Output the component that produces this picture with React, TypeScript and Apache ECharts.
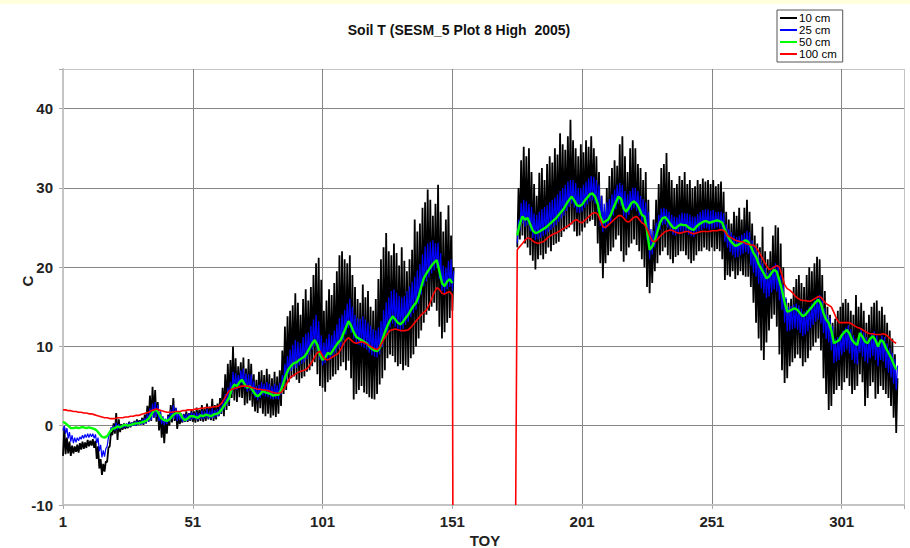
import React, { useEffect, useRef } from "react";
import * as echarts from "echarts";

// ---------- data (TOY = day of year) ----------
const xTickLabels = ["1", "51", "101", "151", "201", "251", "301"];
const yTickLabels = ["-10", "0", "10", "20", "30", "40"];
const seriesNames = ["10 cm", "25 cm", "50 cm", "100 cm"];

const startA = 1; // days 1..151
const startB = 176; // days 176..322

// 10 cm daily high / low
const blackHiA = [
  -0.2, -1.5, -2.0, -2.5, -2.6, -2.4, -2.2, -2.0, -2.1, -1.8,
  -1.9, -1.7, -1.9, -2.6, -4.2, -4.8, -4.5, -2.8, -0.8, 0.3,
  1.6, 0.8, 0.2, 0.3, 0.2, 0.5, 0.4, 0.6, 0.8, 0.7,
  1.0, 1.4, 2.5, 3.8, 4.9, 4.5, 3.0, 1.8, 0.9, 0.6,
  1.4, 2.6, 3.5, 2.2, 1.2, 1.0, 1.5, 1.8, 1.6, 2.0,
  1.8, 2.3, 2.0, 2.6, 2.2, 2.8, 2.4, 3.4, 2.6, 2.8,
  3.5, 4.8, 6.5, 7.8, 8.3, 10.0, 8.5, 7.5, 8.0, 8.6,
  7.2, 8.4, 7.8, 6.5, 5.8, 6.8, 7.0, 6.4, 7.2, 6.5,
  6.0, 6.8, 6.2, 7.0, 9.5, 12.5, 13.8, 14.5, 15.2, 16.7,
  15.5, 14.0, 16.0, 17.2, 15.8, 17.5, 19.0, 20.5, 21.2, 18.4,
  14.5, 15.8, 17.2, 16.5, 18.0, 19.5, 21.5, 22.0, 21.0, 20.5,
  21.5, 19.0, 17.5, 16.0, 15.5, 17.8, 16.2, 17.0, 15.0, 14.5,
  16.0, 18.5, 21.0, 22.5, 24.3, 22.0, 21.5, 23.0, 21.8, 20.2,
  22.5, 20.8, 19.5, 21.0, 22.2, 26.0, 24.5, 25.5, 27.5, 28.2,
  29.8, 28.5, 26.5, 28.0, 30.4, 27.0, 24.5, 26.0, 27.8, 24.0,
  20.0,
];
const blackLoA = [
  -3.8, -3.6, -3.5, -3.8, -3.5, -3.3, -3.4, -3.0, -2.9, -2.8,
  -2.6, -2.5, -2.8, -4.2, -5.4, -6.2, -5.8, -4.6, -2.6, -1.2,
  -1.0, -1.8, -0.8, -0.5, -0.4, -0.3, -0.2, 0.0, 0.0, 0.1,
  0.2, 0.1, 0.3, 0.5, 0.6, 1.0, 0.5, -0.6, -1.5, -2.2,
  -1.0, 0.0, 0.4, 0.6, -0.4, 0.2, 0.4, 0.5, 0.5, 0.6,
  0.5, 0.4, 0.5, 0.6, 0.5, 0.6, 0.8, 0.7, 0.6, 0.8,
  1.2, 1.5, 1.2, 2.0, 2.5, 3.5, 3.2, 3.0, 3.6, 3.5,
  2.6, 2.8, 3.2, 2.4, 1.8, 1.6, 2.2, 1.5, 1.2, 1.5,
  1.0, 1.3, 1.1, 1.5, 2.5, 4.0, 4.5, 5.5, 6.0, 6.2,
  5.8, 5.4, 6.0, 6.2, 6.8, 7.0, 7.5, 8.0, 6.5, 5.0,
  4.8, 4.3, 5.5, 5.8, 6.2, 6.5, 7.0, 7.5, 8.0, 7.0,
  8.2, 6.0, 3.3, 4.0, 4.5, 5.0, 4.2, 4.0, 3.6, 3.4,
  3.3, 4.0, 5.2, 6.0, 7.0, 8.5, 9.0, 8.8, 8.0, 7.5,
  7.8, 7.0, 7.6, 7.4, 8.5, 9.0, 10.0, 11.0, 12.0, 13.0,
  14.0, 14.5, 15.0, 15.5, 14.5, 12.5, 11.0, 11.8, 13.0, 13.6,
  14.5,
];
const blackHiB = [
  30.0, 33.5, 35.2, 34.0, 35.0, 32.0, 30.5, 29.0, 31.9, 32.5,
  31.0, 33.0, 34.0, 33.2, 35.0, 34.2, 36.9, 35.5, 34.8, 36.5,
  38.6, 36.0, 35.0, 34.0, 35.5, 34.5, 36.0, 35.2, 36.5, 35.0,
  34.0, 32.0, 29.0, 27.0, 30.0, 31.5, 32.5, 33.5, 32.8, 35.5,
  36.5, 34.0, 32.0, 35.0, 36.0, 35.0, 33.0, 32.5, 31.0, 32.0,
  28.5, 24.0, 26.0, 28.5, 30.5, 32.5, 33.0, 34.4, 32.0, 31.0,
  30.0, 30.5, 31.5, 31.0, 32.0, 30.5, 31.0, 30.0, 30.2, 31.0,
  30.5, 31.2, 30.8, 31.0, 30.5, 31.0, 30.2, 30.5, 30.8, 29.5,
  27.0, 26.0, 25.5, 27.0, 26.5, 27.5, 26.0, 27.5, 28.5, 27.0,
  25.5, 24.0, 23.0, 22.5, 25.1, 22.0, 21.0, 22.0, 24.0, 25.3,
  25.0, 23.0, 20.0, 16.0, 15.5, 16.0, 17.5, 18.5, 19.0, 18.0,
  17.5, 19.0, 20.0, 19.5, 20.5, 21.3, 21.0, 19.0, 17.0, 15.0,
  14.0, 13.0, 13.5, 14.5, 15.0, 15.5, 16.0, 15.5, 14.5, 14.0,
  16.5, 15.0, 15.5, 14.5, 13.0, 14.0, 15.0, 15.5, 15.8, 14.5,
  15.0, 14.0, 13.0, 12.0, 11.0, 9.0, 6.0,
];
const blackLoB = [
  22.5, 23.5, 24.0, 23.0, 22.5, 21.5, 20.8, 19.7, 21.0, 21.5,
  21.0, 21.7, 22.5, 22.0, 22.8, 23.0, 23.2, 23.8, 24.5, 24.8,
  25.0, 25.4, 24.5, 23.9, 24.0, 24.5, 25.0, 25.5, 25.8, 26.0,
  25.2, 23.0, 20.5, 18.6, 20.5, 21.5, 22.0, 22.5, 23.5, 24.0,
  22.0, 20.7, 21.5, 22.5, 23.0, 23.5, 22.8, 22.0, 21.0, 20.0,
  17.5, 16.7, 18.0, 19.5, 20.5, 21.5, 22.0, 22.5, 21.5, 21.0,
  20.5, 21.3, 21.5, 22.0, 22.0, 21.5, 21.0, 20.5, 20.8, 21.5,
  22.0, 22.0, 22.5, 22.2, 22.0, 22.5, 22.0, 22.3, 22.0, 21.0,
  18.4, 19.0, 18.8, 19.5, 18.5, 19.0, 19.5, 19.0, 18.8, 18.8,
  17.5, 15.5, 13.0, 11.0, 9.5, 8.3, 10.5, 12.0, 13.5, 14.0,
  12.5, 9.0, 7.0, 5.4, 6.0, 7.5, 8.0, 8.5, 9.0, 8.5,
  7.5, 8.0, 8.5, 9.5, 10.0, 10.5, 11.0, 9.5, 6.0, 4.0,
  2.0, 2.5, 4.0, 4.5, 5.0, 4.5, 5.5, 6.0, 5.0, 4.0,
  4.5, 5.0, 6.5, 5.5, 2.5, 3.5, 5.0, 5.5, 3.4, 4.0,
  5.0, 4.5, 4.0, 3.5, 2.5, 1.0, -0.9,
];

// 25 cm daily low / high
const blueLoA = [
  -0.6, -1.0, -1.6, -2.0, -2.2, -2.1, -1.9, -1.7, -1.6, -1.5,
  -1.5, -1.4, -1.6, -2.2, -3.2, -4.0, -3.9, -2.6, -1.0, -0.5,
  -0.6, -0.5, -0.4, -0.3, -0.2, -0.2, -0.1, 0.0, 0.0, 0.1,
  0.1, 0.2, 0.3, 0.5, 0.7, 1.0, 1.1, 0.6, 0.2, 0.1,
  0.2, 0.5, 0.8, 0.9, 0.6, 0.7, 0.5, 0.5, 0.6, 0.7,
  0.8, 0.8, 0.7, 0.9, 0.8, 1.0, 0.9, 0.9, 1.0, 1.1,
  1.2, 1.6, 2.0, 2.5, 3.0, 4.0, 4.6, 4.5, 4.9, 5.2,
  4.7, 4.3, 4.4, 4.0, 3.5, 3.2, 3.5, 3.8, 3.7, 3.6,
  3.4, 3.3, 3.4, 3.3, 3.9, 4.9, 5.8, 6.5, 6.9, 7.2,
  7.3, 7.6, 7.8, 8.0, 8.4, 9.0, 9.6, 10.0, 9.4, 8.3,
  7.6, 7.9, 8.4, 8.3, 8.7, 9.2, 9.7, 10.0, 10.8, 11.5,
  12.3, 11.7, 11.0, 10.4, 10.2, 10.0, 9.8, 9.6, 9.2, 8.9,
  8.7, 8.6, 9.0, 9.9, 10.9, 11.7, 12.4, 12.9, 12.5, 12.1,
  11.9, 12.2, 12.7, 13.1, 13.7, 14.2, 14.6, 15.4, 16.5, 17.6,
  18.2, 18.7, 19.2, 19.6, 19.9, 18.5, 17.0, 16.6, 17.2, 17.5,
  17.0,
];
const blueHiA = [
  0.0, -0.3, -0.8, -1.2, -1.5, -1.5, -1.4, -1.2, -1.1, -1.0,
  -1.0, -1.0, -1.1, -1.5, -2.4, -3.1, -2.9, -1.5, -0.2, 0.0,
  0.4, 0.2, 0.1, 0.2, 0.3, 0.4, 0.4, 0.5, 0.6, 0.6,
  0.8, 1.0, 1.5, 2.2, 2.8, 3.0, 2.6, 1.8, 1.2, 0.9,
  1.2, 2.0, 2.6, 2.3, 1.8, 1.6, 1.4, 1.5, 1.6, 1.7,
  1.6, 1.7, 1.6, 1.9, 1.8, 2.1, 1.9, 2.2, 2.0, 2.1,
  2.4, 3.2, 4.0, 4.8, 5.5, 6.8, 6.6, 6.4, 7.0, 7.2,
  6.6, 6.5, 6.5, 5.6, 5.0, 5.2, 5.5, 5.3, 5.5, 5.3,
  5.0, 5.3, 5.1, 5.4, 6.4, 7.8, 8.8, 9.6, 10.2, 10.8,
  10.6, 10.4, 11.2, 11.6, 11.8, 12.6, 13.4, 14.0, 13.2, 11.4,
  10.5, 11.0, 11.6, 11.4, 12.0, 12.8, 13.6, 14.0, 14.6, 15.4,
  16.0, 15.0, 14.0, 13.6, 13.5, 13.8, 13.4, 13.0, 12.6, 12.2,
  12.0, 12.4, 13.2, 14.6, 15.6, 16.2, 17.0, 17.2, 16.8, 16.4,
  16.2, 16.4, 17.0, 17.6, 18.2, 18.8, 19.6, 20.4, 21.6, 22.6,
  23.0, 23.2, 23.4, 23.0, 23.1, 21.8, 20.2, 20.0, 20.8, 21.0,
  19.5,
];
const blueLoB = [
  23.0, 24.6, 25.5, 25.1, 25.3, 24.5, 23.7, 23.4, 23.5, 23.7,
  23.9, 24.1, 24.4, 24.7, 25.0, 25.3, 25.7, 26.1, 26.5, 27.1,
  27.6, 28.0, 27.5, 26.9, 26.8, 27.0, 27.5, 27.9, 28.3, 28.4,
  28.0, 27.0, 25.2, 24.4, 24.8, 25.1, 25.7, 26.5, 27.3, 28.0,
  27.7, 26.4, 26.1, 26.6, 27.2, 27.4, 27.1, 26.5, 25.7, 25.4,
  23.4, 21.0, 21.6, 22.5, 23.6, 24.7, 25.3, 25.4, 25.0, 24.5,
  24.1, 24.0, 24.3, 24.5, 24.4, 24.4, 24.1, 23.9, 23.8, 24.2,
  24.5, 24.7, 24.9, 24.9, 24.7, 24.8, 24.9, 25.0, 24.9, 24.7,
  23.2, 22.5, 21.9, 21.5, 21.2, 21.3, 21.5, 21.7, 21.9, 21.7,
  20.2, 19.3, 18.8, 17.9, 17.3, 16.7, 16.1, 16.3, 16.8, 17.2,
  16.9, 15.8, 14.6, 13.0, 11.9, 12.0, 12.2, 12.3, 12.1, 11.7,
  11.3, 11.5, 11.9, 12.3, 12.7, 13.1, 13.4, 12.9, 11.7, 10.9,
  10.5, 9.5, 7.9, 8.1, 8.3, 8.9, 9.3, 9.6, 9.1, 8.3,
  7.9, 7.7, 9.2, 8.7, 8.1, 7.9, 8.5, 8.8, 8.3, 7.5,
  8.3, 8.1, 7.3, 6.7, 6.1, 5.3, 4.5,
];
const blueHiB = [
  26.0, 28.1, 28.5, 28.3, 28.0, 27.6, 26.8, 26.6, 27.0, 27.3,
  27.6, 27.8, 28.2, 28.5, 28.8, 29.2, 29.6, 30.0, 30.4, 30.8,
  31.0, 31.0, 30.6, 30.0, 30.0, 30.4, 30.8, 31.2, 31.5, 31.4,
  31.0, 30.4, 29.0, 28.0, 28.2, 28.6, 29.2, 29.8, 30.4, 30.6,
  30.4, 29.6, 29.2, 29.6, 30.0, 30.0, 29.6, 29.0, 28.6, 28.2,
  27.0, 24.8, 24.6, 25.6, 26.6, 27.4, 27.5, 27.3, 27.0, 26.6,
  26.4, 26.3, 26.6, 26.9, 26.8, 26.8, 26.6, 26.4, 26.4, 26.7,
  27.0, 27.2, 27.3, 27.3, 27.1, 27.2, 27.0, 27.0, 27.0, 26.8,
  25.4, 24.8, 24.4, 24.0, 23.8, 23.9, 24.1, 24.3, 24.6, 24.4,
  23.4, 22.6, 22.0, 21.2, 20.5, 19.9, 19.3, 19.6, 20.1, 20.5,
  20.2, 19.0, 17.8, 16.2, 15.0, 15.1, 15.3, 15.4, 15.2, 14.8,
  14.4, 14.6, 15.0, 15.4, 15.8, 16.2, 16.5, 16.0, 14.8, 14.0,
  13.6, 12.6, 11.0, 11.2, 11.4, 12.0, 12.4, 12.7, 12.2, 11.4,
  11.0, 10.8, 12.3, 11.8, 11.2, 11.0, 11.6, 11.9, 11.4, 10.6,
  11.4, 11.2, 10.4, 9.8, 9.2, 8.4, 7.6,
];

// 50 cm daily
const greenA = [
  0.5, 0.3, 0.0, -0.3, -0.3, -0.2, -0.3, -0.2, -0.2, -0.3,
  -0.2, -0.3, -0.4, -0.6, -1.0, -1.4, -1.5, -1.3, -0.8, -0.4,
  -0.3, -0.1, -0.2, 0.0, 0.1, 0.0, 0.1, 0.2, 0.3, 0.3,
  0.4, 0.5, 0.6, 0.9, 1.4, 1.9, 2.0, 1.5, 0.9, 0.7,
  0.6, 0.8, 1.2, 1.5, 1.7, 1.6, 1.0, 0.7, 0.9, 1.2,
  1.2, 1.1, 1.0, 1.3, 1.2, 1.4, 1.3, 1.2, 1.4, 1.5,
  1.6, 2.0, 2.5, 3.0, 3.5, 4.6, 5.2, 5.0, 5.5, 5.8,
  5.2, 4.8, 5.0, 4.5, 4.0, 3.7, 4.0, 4.4, 4.2, 4.1,
  4.0, 3.8, 3.9, 3.9, 4.5, 5.5, 6.5, 7.2, 7.6, 7.9,
  8.0, 8.3, 8.5, 8.7, 9.2, 9.8, 10.4, 10.8, 10.2, 9.0,
  8.3, 8.6, 9.2, 9.0, 9.5, 10.0, 10.5, 10.8, 11.6, 12.4,
  13.2, 12.6, 11.8, 11.2, 11.0, 10.8, 10.6, 10.4, 10.0, 9.7,
  9.5, 9.4, 9.8, 10.8, 11.8, 12.6, 13.3, 13.8, 13.4, 13.0,
  12.8, 13.1, 13.6, 14.0, 14.6, 15.1, 15.5, 16.3, 17.5, 18.6,
  19.2, 19.7, 20.2, 20.6, 20.9, 19.5, 18.0, 17.6, 18.2, 18.5,
  18.0,
];
const greenB = [
  24.0, 25.5, 26.4, 26.0, 26.2, 25.4, 24.6, 24.3, 24.4, 24.6,
  24.8, 25.0, 25.3, 25.6, 25.9, 26.2, 26.6, 27.0, 27.4, 28.0,
  28.5, 28.9, 28.4, 27.8, 27.7, 27.9, 28.4, 28.8, 29.2, 29.3,
  28.9, 28.0, 26.4, 25.6, 25.8, 26.0, 26.6, 27.4, 28.2, 28.9,
  28.6, 27.4, 27.0, 27.5, 28.1, 28.3, 28.0, 27.4, 26.6, 26.4,
  24.6, 22.2, 22.6, 23.4, 24.5, 25.6, 26.2, 26.3, 25.9, 25.4,
  25.0, 24.9, 25.2, 25.4, 25.3, 25.3, 25.0, 24.8, 24.7, 25.1,
  25.4, 25.6, 25.8, 25.8, 25.6, 25.7, 25.8, 25.9, 25.8, 25.6,
  24.7, 24.0, 23.4, 23.0, 22.7, 22.8, 23.0, 23.2, 23.4, 23.2,
  22.6, 21.8, 21.3, 20.4, 19.8, 19.2, 18.6, 18.8, 19.3, 19.7,
  19.4, 18.3, 17.1, 15.6, 14.4, 14.5, 14.7, 14.8, 14.6, 14.2,
  13.8, 14.0, 14.4, 14.8, 15.2, 15.6, 15.9, 15.4, 14.2, 13.4,
  13.0, 12.0, 10.4, 10.6, 10.8, 11.4, 11.8, 12.1, 11.6, 10.8,
  10.4, 10.2, 11.7, 11.2, 10.6, 10.4, 11.0, 11.3, 10.8, 10.0,
  10.8, 10.6, 9.8, 9.2, 8.6, 7.8, 7.1,
];

// 100 cm daily
const redA = [
  2.0, 2.0, 1.9, 1.9, 1.8, 1.8, 1.7, 1.7, 1.6, 1.6,
  1.5, 1.5, 1.4, 1.3, 1.2, 1.1, 1.0, 1.0, 0.9, 0.9,
  0.9, 1.0, 1.0, 1.0, 1.1, 1.1, 1.2, 1.2, 1.3, 1.3,
  1.4, 1.5, 1.6, 1.7, 1.9, 2.0, 2.1, 2.0, 1.9, 1.8,
  1.7, 1.7, 1.7, 1.8, 1.8, 1.8, 1.9, 1.9, 2.0, 2.0,
  2.0, 2.1, 2.1, 2.2, 2.2, 2.3, 2.3, 2.3, 2.4, 2.4,
  2.5, 2.8, 3.3, 3.9, 4.4, 4.6, 4.7, 4.8, 4.9, 5.0,
  5.0, 5.0, 4.9, 4.8, 4.7, 4.6, 4.6, 4.5, 4.5, 4.4,
  4.3, 4.2, 4.1, 4.1, 4.2, 4.6, 5.2, 5.8, 6.2, 6.4,
  6.6, 6.8, 6.9, 7.0, 7.2, 7.6, 8.1, 8.7, 9.2, 9.4,
  8.8, 8.4, 8.3, 8.5, 8.7, 8.9, 9.1, 9.6, 10.3, 10.8,
  11.1, 10.8, 10.5, 10.4, 10.5, 10.6, 10.5, 10.3, 10.1, 9.9,
  9.7, 9.6, 9.9, 10.5, 11.1, 11.6, 12.0, 12.1, 12.2, 12.1,
  12.0, 12.0, 12.0, 12.1, 12.4, 12.8, 13.2, 13.6, 14.0, 14.3,
  14.6, 15.2, 16.0, 16.8, 17.4, 17.2, 16.7, 16.6, 16.8, 16.9,
  16.5,
];
const redB = [
  22.2, 22.6, 23.0, 23.4, 23.7, 23.6, 23.3, 23.1, 23.0, 23.1,
  23.2, 23.5, 23.8, 24.0, 24.2, 24.3, 24.5, 24.7, 24.9, 25.1,
  25.3, 25.6, 25.9, 26.0, 25.7, 25.6, 25.9, 26.2, 26.5, 26.8,
  26.9, 26.7, 25.9, 25.1, 25.0, 25.3, 25.6, 25.9, 26.2, 26.5,
  26.5, 26.2, 25.8, 25.7, 26.0, 26.3, 26.4, 26.0, 25.6, 25.4,
  24.8, 24.0, 23.3, 23.2, 23.5, 23.9, 24.2, 24.5, 24.6, 24.7,
  24.6, 24.4, 24.3, 24.3, 24.4, 24.5, 24.5, 24.3, 24.2, 24.3,
  24.4, 24.5, 24.5, 24.5, 24.5, 24.6, 24.6, 24.6, 24.7, 24.7,
  24.5, 24.0, 23.8, 23.6, 23.4, 23.3, 23.2, 23.2, 23.0, 22.9,
  22.8, 22.8, 22.5, 22.0, 21.4, 20.8, 20.2, 19.7, 19.8, 20.0,
  20.2, 20.0, 19.0, 17.8, 17.3, 17.1, 16.8, 16.4, 16.1, 15.9,
  15.8, 15.8, 15.7, 15.7, 15.9, 16.1, 16.3, 16.2, 15.8, 15.4,
  15.2, 15.0, 14.3, 13.5, 13.0, 13.0, 13.0, 13.0, 13.0, 12.8,
  12.6, 12.4, 12.3, 12.1, 11.9, 11.7, 11.6, 11.6, 11.5, 11.5,
  11.5, 11.6, 11.5, 11.2, 10.9, 10.6, 10.4,
];
// missing-data markers of the 100 cm logger (drawn down to the axis floor)
const redGapDays = [151.2, 175.4];
const gapFloor = -10;

// ---------- helpers (x = TOY - 1 so that grid lines fall on 1, 51, ...) ----------
type Pt = [number, number | null];
function zigzag(start: number, lo: number[], hi: number[]): Pt[] {
  const out: Pt[] = [];
  for (let i = 0; i < lo.length; i++) {
    const d = start + i - 1;
    out.push([d, lo[i]]);
    out.push([d + 0.5, hi[i]]);
  }
  return out;
}
function daily(start: number, v: number[]): Pt[] {
  return v.map((y, i) => [start + i - 1, y] as Pt);
}
const gapPt = (): Pt => [160, null];

export default function App() {
  const ref = useRef<HTMLDivElement>(null);
  useEffect(() => {
    if (!ref.current) return;
    const chart = echarts.init(ref.current, null, { renderer: "svg" });
    const font = "'Liberation Sans', Arial, sans-serif";
    const blackData = [...zigzag(startA, blackLoA, blackHiA), gapPt(), ...zigzag(startB, blackLoB, blackHiB)];
    const blueData = [...zigzag(startA, blueLoA, blueHiA), gapPt(), ...zigzag(startB, blueLoB, blueHiB)];
    const greenData = [...daily(startA, greenA), gapPt(), ...daily(startB, greenB)];
    const redData: Pt[] = [
      ...daily(startA, redA),
      [redGapDays[0] - 1, gapFloor],
      gapPt(),
      [redGapDays[1] - 1, gapFloor],
      ...daily(startB, redB),
    ];
    const colors = ["#000000", "#0000ff", "#00ff00", "#ff0000"];
    const widths = [1.8, 1.2, 2.4, 1.6];
    const datas = [blackData, blueData, greenData, redData];
    const gridDark = "#858585";
    const frame = "#c4c4c4";
    const option: any = {
      animation: false,
      backgroundColor: "#ffffff",
      grid: { left: 63, top: 69, right: 6, bottom: 43 },
      xAxis: {
        type: "value",
        min: 0,
        max: 324,
        interval: 50,
        axisLine: { show: true, onZero: false, lineStyle: { color: frame, width: 2 } },
        axisTick: { show: true, length: 4, lineStyle: { color: "#aaa" } },
        axisLabel: {
          formatter: (v: number) => (v % 50 === 0 ? xTickLabels[v / 50] ?? "" : ""),
          fontSize: 15,
          fontWeight: "bold",
          fontFamily: font,
          color: "#222",
          margin: 9,
        },
        splitLine: {
          show: true,
          lineStyle: { color: [frame, gridDark, gridDark, gridDark, gridDark, gridDark, gridDark, frame], width: 1 },
        },
      },
      yAxis: {
        type: "value",
        min: -10,
        max: 45,
        interval: 10,
        axisLine: { show: true, lineStyle: { color: frame, width: 2 } },
        axisTick: { show: true, length: 4, lineStyle: { color: "#aaa" } },
        axisLabel: {
          formatter: (v: number) => (v % 10 === 0 ? yTickLabels[(v + 10) / 10] ?? "" : ""),
          fontSize: 15,
          fontWeight: "bold",
          fontFamily: font,
          color: "#222",
          margin: 10,
        },
        splitLine: {
          show: true,
          lineStyle: { color: [frame, gridDark, gridDark, gridDark, gridDark, gridDark, frame], width: 1 },
        },
      },
      legend: {
        orient: "vertical",
        left: 777,
        top: 10,
        itemWidth: 17,
        itemHeight: 2,
        itemGap: 0,
        icon: "rect",
        borderColor: "#555",
        borderWidth: 1,
        padding: [2, 6, 2, 3],
        textStyle: { fontSize: 11.5, lineHeight: 10, fontFamily: "'Liberation Sans', Arial, sans-serif", color: "#000", padding: [0, 0, 0, -3] },
        data: seriesNames,
      },
      graphic: [
        { type: "rect", left: 0, top: 0, shape: { width: 910, height: 4 }, style: { fill: "#ffffdc" }, silent: true },
        {
          type: "text",
          x: 459,
          y: 30,
          style: {
            text: "Soil T (SESM_5 Plot 8 High  2005)",
            textAlign: "center",
            textVerticalAlign: "middle",
            font: "bold 14px 'Liberation Sans', Arial, sans-serif",
            fill: "#111",
          },
        },
        {
          type: "text",
          x: 485,
          y: 540,
          style: { text: "TOY", textAlign: "center", textVerticalAlign: "middle", font: "bold 15px " + font, fill: "#222" },
        },
        {
          type: "text",
          x: 27,
          y: 281,
          rotation: Math.PI / 2,
          style: { text: "C", textAlign: "center", textVerticalAlign: "middle", font: "bold 15px " + font, fill: "#222" },
        },
      ],
      series: seriesNames.map((name, i) => ({
        name,
        type: "line",
        data: datas[i],
        showSymbol: false,
        symbol: "none",
        connectNulls: false,
        color: colors[i],
        lineStyle: { color: colors[i], width: widths[i] },
        z: 2 + i,
      })),
    };
    chart.setOption(option);
    return () => chart.dispose();
  }, []);
  return <div ref={ref} style={{ position: "fixed", left: 0, top: 0, width: 910, height: 548 }} />;
}
